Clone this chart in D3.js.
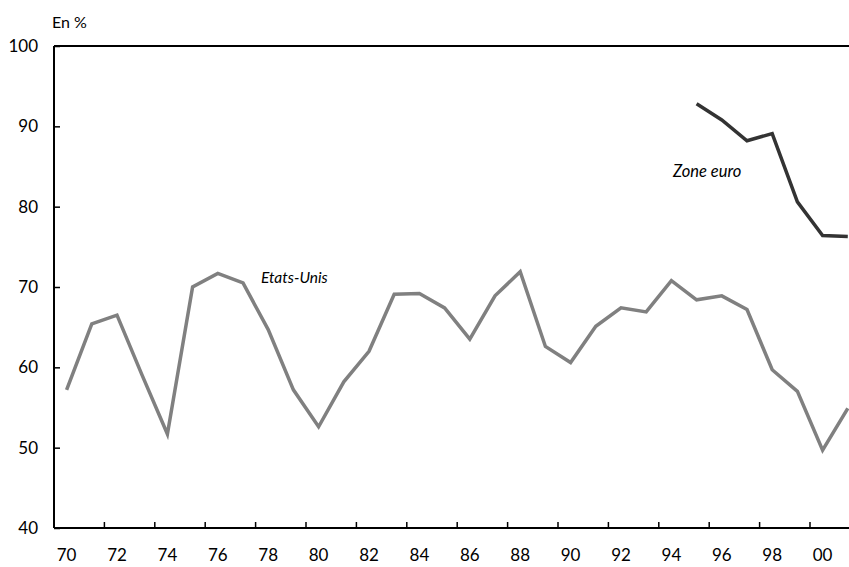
<!DOCTYPE html>
<html>
<head>
<meta charset="utf-8">
<script src="https://cdn.jsdelivr.net/npm/d3@7"></script>
<style>
  body { margin: 0; background: #fff; }
  svg { display: block; font-family: Lato, "Open Sans", sans-serif; }
</style>
</head>
<body>
<svg id="chart" width="849" height="567"></svg>
<script>
// years 1970 .. 2001
var years = d3.range(1970, 2002);
var yearLabels = ["70","72","74","76","78","80","82","84","86","88","90","92","94","96","98","00"];
var usValues = [57.2, 65.4, 66.5, 59.0, 51.7, 70.0, 71.7, 70.5, 64.7, 57.2,
                52.6, 58.2, 62.0, 69.1, 69.2, 67.4, 63.5, 68.9, 71.9, 62.6,
                60.6, 65.1, 67.4, 66.9, 70.8, 68.4, 68.9, 67.2, 59.7, 57.0,
                49.7, 54.9];
var euroYears = [1995, 1996, 1997, 1998, 1999, 2000, 2001];
var euroValues = [92.8, 90.8, 88.2, 89.1, 80.6, 76.4, 76.3];
var yTicks = [40, 50, 60, 70, 80, 90, 100];

var svg = d3.select("#chart");
var mLeft = 54, mTop = 46, mBottom = 528;
var bw = 25.2;

var x = d3.scaleBand()
  .domain(years)
  .range([mLeft, mLeft + years.length * bw])
  .paddingInner(0).paddingOuter(0);

var y = d3.scaleLinear()
  .domain([40, 100])
  .range([mBottom, mTop]);

var cx = function(yr) { return x(yr) + x.bandwidth() / 2; };

// top frame line
svg.append("line")
  .attr("x1", mLeft).attr("x2", 849)
  .attr("y1", y(100)).attr("y2", y(100))
  .attr("stroke", "#000").attr("stroke-width", 2);

// y axis
var yAxis = svg.append("g").attr("transform", "translate(" + mLeft + ",0)")
  .call(d3.axisRight(y).tickValues(yTicks).tickSize(6).tickFormat(""));
yAxis.select(".domain").attr("stroke-width", 2).attr("d", "M0," + mBottom + "V" + mTop);
yAxis.selectAll(".tick line").attr("stroke-width", 1.5);

svg.append("g").selectAll("text")
  .data(yTicks)
  .join("text")
  .attr("x", 38)
  .attr("y", function(d) { return y(d); })
  .attr("dy", "0.36em")
  .attr("text-anchor", "end")
  .attr("font-size", 17)
  .text(function(d) { return d; });

// x axis: ticks at start of even years, pointing up
var evenYears = years.filter(function(d) { return d % 2 === 0 && d > 1970; });
var xg = svg.append("g");
xg.append("line")
  .attr("x1", mLeft).attr("x2", 849)
  .attr("y1", mBottom).attr("y2", mBottom)
  .attr("stroke", "#000").attr("stroke-width", 2);
xg.selectAll(".xt")
  .data(evenYears)
  .join("line")
  .attr("class", "xt")
  .attr("x1", function(d) { return x(d); })
  .attr("x2", function(d) { return x(d); })
  .attr("y1", mBottom).attr("y2", mBottom - 6)
  .attr("stroke", "#000").attr("stroke-width", 1.5);

var labelYears = years.filter(function(d) { return d % 2 === 0; });
xg.selectAll(".xl")
  .data(labelYears)
  .join("text")
  .attr("class", "xl")
  .attr("x", function(d) { return cx(d); })
  .attr("y", 561)
  .attr("text-anchor", "middle")
  .attr("font-size", 17)
  .text(function(d, i) { return yearLabels[i]; });

// lines
var line = d3.line()
  .x(function(d) { return cx(d[0]); })
  .y(function(d) { return y(d[1]); });

svg.append("path")
  .datum(years.map(function(d, i) { return [d, usValues[i]]; }))
  .attr("d", line)
  .attr("fill", "none")
  .attr("stroke", "#808080")
  .attr("stroke-width", 3.5);

svg.append("path")
  .datum(euroYears.map(function(d, i) { return [d, euroValues[i]]; }))
  .attr("d", line)
  .attr("fill", "none")
  .attr("stroke", "#333333")
  .attr("stroke-width", 3.5);

// labels
svg.append("text")
  .attr("x", 52).attr("y", 28)
  .attr("font-size", 16)
  .text("En %");

svg.append("text")
  .attr("x", 261).attr("y", 283)
  .attr("font-size", 15.5)
  .attr("font-style", "italic")
  .text("Etats-Unis");

svg.append("text")
  .attr("x", 673).attr("y", 177)
  .attr("font-size", 16.5)
  .attr("font-style", "italic")
  .text("Zone euro");
</script>
</body>
</html>
